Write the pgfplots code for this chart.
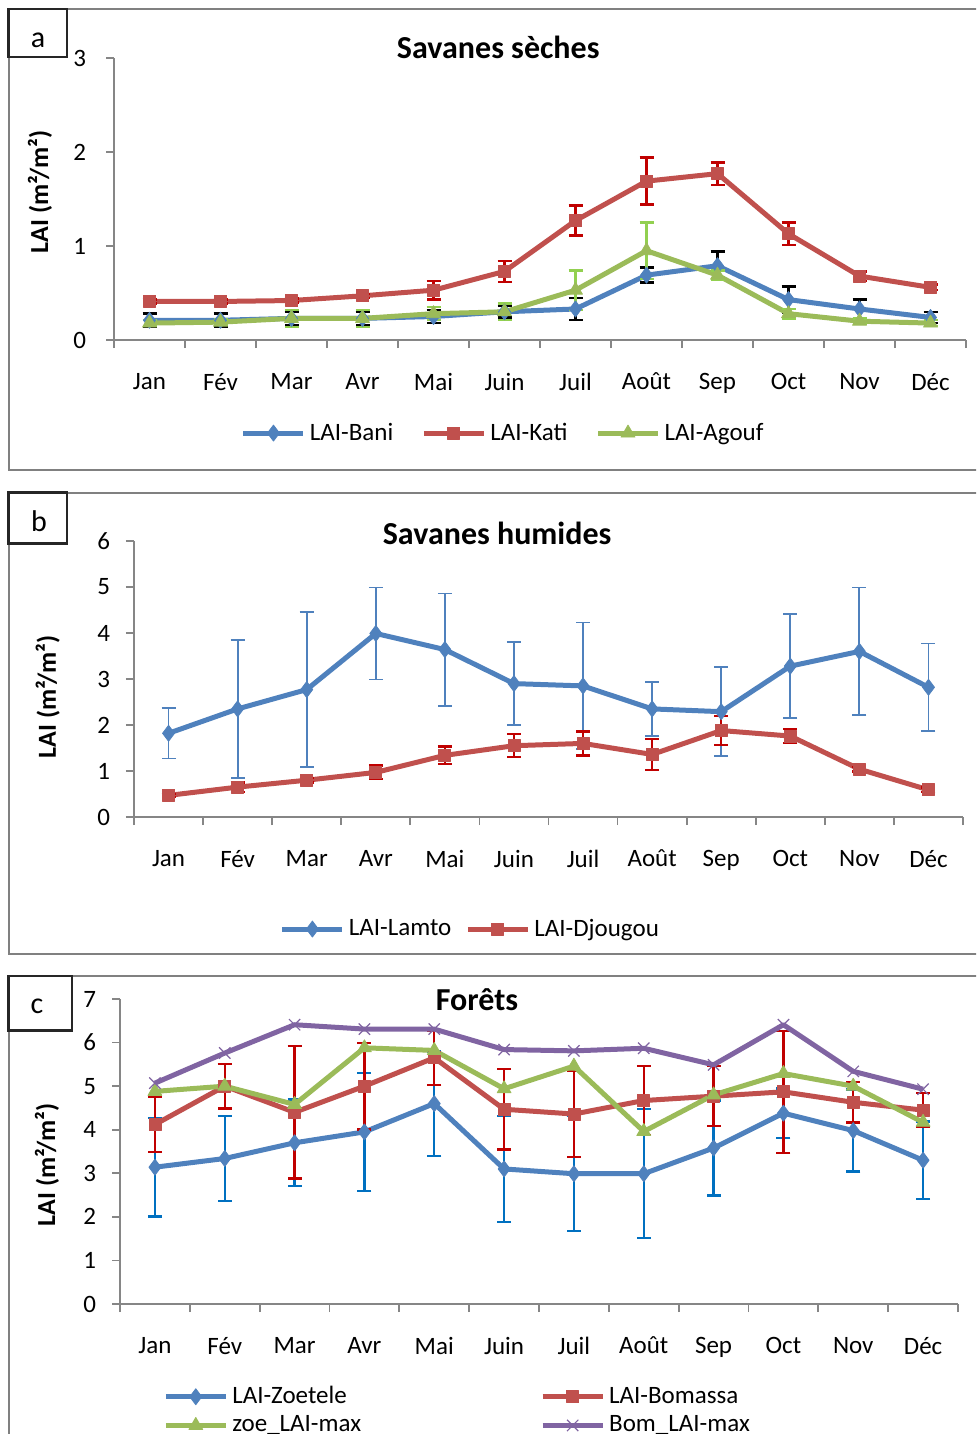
\documentclass[border=0pt]{standalone}
\usepackage{fontspec}
\setmainfont{Carlito}
\usepackage{pgfplots}
\usepackage{pgfplotstable}
\pgfplotsset{compat=1.18}

\definecolor{cBlue}{HTML}{4F81BD}
\definecolor{cRed}{HTML}{C0504D}
\definecolor{cGreen}{HTML}{9BBB59}
\definecolor{cPurple}{HTML}{8064A2}
\definecolor{eRed}{HTML}{C00000}
\definecolor{eGreen}{HTML}{92D050}
\definecolor{eBlue}{HTML}{0070C0}
\definecolor{axgray}{HTML}{868686}
\definecolor{framegray}{HTML}{808080}

\newcommand\tickfont{\fontsize{12.5}{15}\selectfont}

% panel a: savanes seches
\pgfplotstableread{
x y e
1 0.21 0.07
2 0.21 0.07
3 0.23 0.07
4 0.23 0.07
5 0.25 0.07
6 0.30 0.06
7 0.33 0.12
8 0.69 0.08
9 0.79 0.15
10 0.43 0.14
11 0.33 0.10
12 0.24 0.06
}\bani
\pgfplotstableread{
x y e
1 0.41 0.02
2 0.41 0.02
3 0.42 0.02
4 0.47 0.02
5 0.53 0.10
6 0.73 0.11
7 1.27 0.16
8 1.69 0.25
9 1.77 0.12
10 1.13 0.12
11 0.68 0.05
12 0.56 0.03
}\kati
\pgfplotstableread{
x y e
1 0.18 0.03
2 0.19 0.03
3 0.23 0.09
4 0.23 0.09
5 0.28 0.07
6 0.30 0.09
7 0.53 0.21
8 0.95 0.30
9 0.69 0.05
10 0.28 0.05
11 0.20 0.03
12 0.18 0.03
}\agouf

% panel b: savanes humides
\pgfplotstableread{
x y e
1 1.82 0.55
2 2.35 1.50
3 2.77 1.68
4 3.99 1.00
5 3.64 1.22
6 2.90 0.90
7 2.85 1.38
8 2.35 0.59
9 2.29 0.97
10 3.28 1.13
11 3.60 1.39
12 2.82 0.95
}\lamto
\pgfplotstableread{
x y e
1 0.47 0.03
2 0.65 0.10
3 0.80 0.05
4 0.97 0.15
5 1.34 0.19
6 1.55 0.25
7 1.60 0.26
8 1.36 0.34
9 1.88 0.31
10 1.76 0.15
11 1.04 0.05
12 0.59 0.05
}\djougou

% panel c: forets
\pgfplotstableread{
x y e
1 3.14 1.13
2 3.34 0.97
3 3.70 0.99
4 3.95 1.35
5 4.60 1.20
6 3.10 1.22
7 2.99 1.32
8 2.99 1.48
9 3.58 1.09
10 4.38 0.57
11 3.98 0.94
12 3.30 0.89
}\zoetele
\pgfplotstableread{
x y e
1 4.12 0.63
2 5.00 0.51
3 4.40 1.52
4 5.00 0.99
5 5.65 0.62
6 4.47 0.92
7 4.36 0.99
8 4.67 0.79
9 4.77 0.69
10 4.87 1.40
11 4.63 0.46
12 4.45 0.39
}\bomassa
\pgfplotstableread{
x y
1 4.88
2 5.00
3 4.58
4 5.88
5 5.82
6 4.94
7 5.46
8 3.96
9 4.80
10 5.29
11 5.00
12 4.17
}\zoemax
\pgfplotstableread{
x y
1 5.07
2 5.76
3 6.41
4 6.31
5 6.31
6 5.84
7 5.81
8 5.87
9 5.49
10 6.41
11 5.34
12 4.93
}\bommax

\pgfplotsset{
  panel/.style={
    scale only axis,
    clip=false,
    axis x line=bottom, axis y line=left,
    axis line style={-, draw=axgray, line width=0.9pt},
    xmin=0.5, xmax=12.5,
    xtick={0.5,1.5,...,12.5},
    x tick label as interval,
    xticklabels={Jan,Fév,Mar,Avr,Mai,Juin,Juil,Août,Sep,Oct,Nov,Déc},
    ymin=0,
    tick align=outside,
    major tick length=4pt,
    every tick/.style={draw=axgray, line width=0.9pt},
    tick label style={font=\tickfont},
    xticklabel style={yshift=-9pt},
    /pgf/number format/assume math mode=true,
    title style={font=\fontsize{16}{19}\selectfont\bfseries, anchor=center},
    ylabel={LAI (m²/m²)},
    ylabel style={font=\fontsize{13}{15}\selectfont\bfseries, anchor=center},
    legend style={draw=none, fill=none, font=\tickfont, anchor=center,
      nodes={inner ysep=1pt},
      /tikz/every even column/.append style={column sep=12pt}},
    legend cell align=left,
    legend image code/.code={\draw[mark repeat=2,mark phase=2,##1] plot coordinates {(0pt,0pt)(15pt,0pt)(30pt,0pt)};},
  },
  ln/.style={#1, line width=2.5pt, line join=round, mark options={solid, line width=0.4pt}},
  eb/.style={error bars/y dir=both, error bars/y explicit,
    error bars/error bar style={#1, line width=1.2pt},
    error bars/error mark options={rotate=90, #1, line width=1.2pt, mark size=3.5pt}},
}

\begin{document}
\begin{tikzpicture}
\path[use as bounding box] (0,0) rectangle (488pt,-717pt);
\clip (0,0) rectangle (488pt,-717pt);

% panel frames
\draw[framegray, line width=1.1pt] (4.3pt,-4.5pt) rectangle (495pt,-235pt);
\draw[framegray, line width=1.1pt] (4.3pt,-246.3pt) rectangle (495pt,-477pt);
\draw[framegray, line width=1.1pt] (4.3pt,-488pt) rectangle (495pt,-730pt);

% (a)
\begin{axis}[panel, at={(57pt,-170pt)}, anchor=south west,
  width=426pt, height=141pt, ymax=3, ytick={0,1,2,3},
  yticklabel style={xshift=-6.5pt},
  title={Savanes sèches}, title style={at={(axis description cs:0.451,0.996)}},
  ylabel style={at={(axis description cs:-0.087,0.525)}},
  legend columns=3,
  legend style={at={(axis description cs:0.458,-0.33)}}]
\addplot[ln=cBlue, mark=diamond*, mark size=4pt, eb=black] table[x=x,y=y,y error=e]{\bani};
\addlegendentry{LAI-Bani}
\addplot[ln=cRed, mark=square*, mark size=3pt, eb=eRed] table[x=x,y=y,y error=e]{\kati};
\addlegendentry{LAI-Kati}
\addplot[ln=cGreen, mark=triangle*, mark size=4pt, eb=eGreen] table[x=x,y=y,y error=e]{\agouf};
\addlegendentry{LAI-Agouf}
\end{axis}

% (b)
\begin{axis}[panel, at={(67pt,-408.5pt)}, anchor=south west,
  width=414.5pt, height=138pt, ymax=6, ytick={0,...,6},
  yticklabel style={xshift=-4.5pt},
  title={Savanes humides}, title style={at={(axis description cs:0.438,0.985)}},
  ylabel style={at={(axis description cs:-0.104,0.435)}},
  legend columns=2,
  legend style={at={(axis description cs:0.407,-0.406)},
    /tikz/every even column/.append style={column sep=5pt}}]
\addplot[ln=cBlue, mark=diamond*, mark size=4pt,
  error bars/y dir=both, error bars/y explicit,
  error bars/error bar style={cBlue, line width=0.9pt},
  error bars/error mark options={rotate=90, cBlue, line width=0.9pt, mark size=3.5pt}]
  table[x=x,y=y,y error=e]{\lamto};
\addlegendentry{LAI-Lamto}
\addplot[ln=cRed, mark=square*, mark size=3pt, eb=eRed] table[x=x,y=y,y error=e]{\djougou};
\addlegendentry{LAI-Djougou}
\end{axis}

% (c)
\begin{axis}[panel, at={(60pt,-652pt)}, anchor=south west,
  width=419pt, height=152.5pt, ymax=7, ytick={0,...,7},
  yticklabel style={xshift=-4.5pt},
  title={Forêts}, title style={at={(axis description cs:0.426,0.958)}},
  ylabel style={at={(axis description cs:-0.087,0.456)}},
  legend columns=2,
  legend style={at={(axis description cs:0.404,-0.35)},
    /tikz/every odd row/.append style={row sep=2.5pt},
    /tikz/every even column/.append style={column sep=87.5pt}}]
\addplot[ln=cBlue, mark=diamond*, mark size=4pt, eb=eBlue] table[x=x,y=y,y error=e]{\zoetele};
\addlegendentry{LAI-Zoetele}
\addplot[ln=cRed, mark=square*, mark size=3pt, eb=eRed] table[x=x,y=y,y error=e]{\bomassa};
\addlegendentry{LAI-Bomassa}
\addplot[ln=cGreen, mark=triangle*, mark size=4pt] table[x=x,y=y]{\zoemax};
\addlegendentry{zoe\_LAI-max}
\addplot[ln=cPurple, mark=x, mark size=4pt, mark options={line width=0.6pt}] table[x=x,y=y]{\bommax};
\addlegendentry{Bom\_LAI-max}
\end{axis}

% panel letters
\draw[black!85, line width=1.2pt, fill=white] (4.3pt,-4.5pt) rectangle (33.5pt,-28.5pt);
\node[font=\fontsize{15}{17}\selectfont] at (19pt,-20pt) {a};
\draw[black!85, line width=1.2pt, fill=white] (4.3pt,-246.3pt) rectangle (33.5pt,-271.7pt);
\node[font=\fontsize{15}{17}\selectfont] at (19.5pt,-260.5pt) {b};
\draw[black!85, line width=1.2pt, fill=white] (4.3pt,-488pt) rectangle (36pt,-515.3pt);
\node[font=\fontsize{15}{17}\selectfont] at (18.5pt,-503pt) {c};
\end{tikzpicture}
\end{document}
